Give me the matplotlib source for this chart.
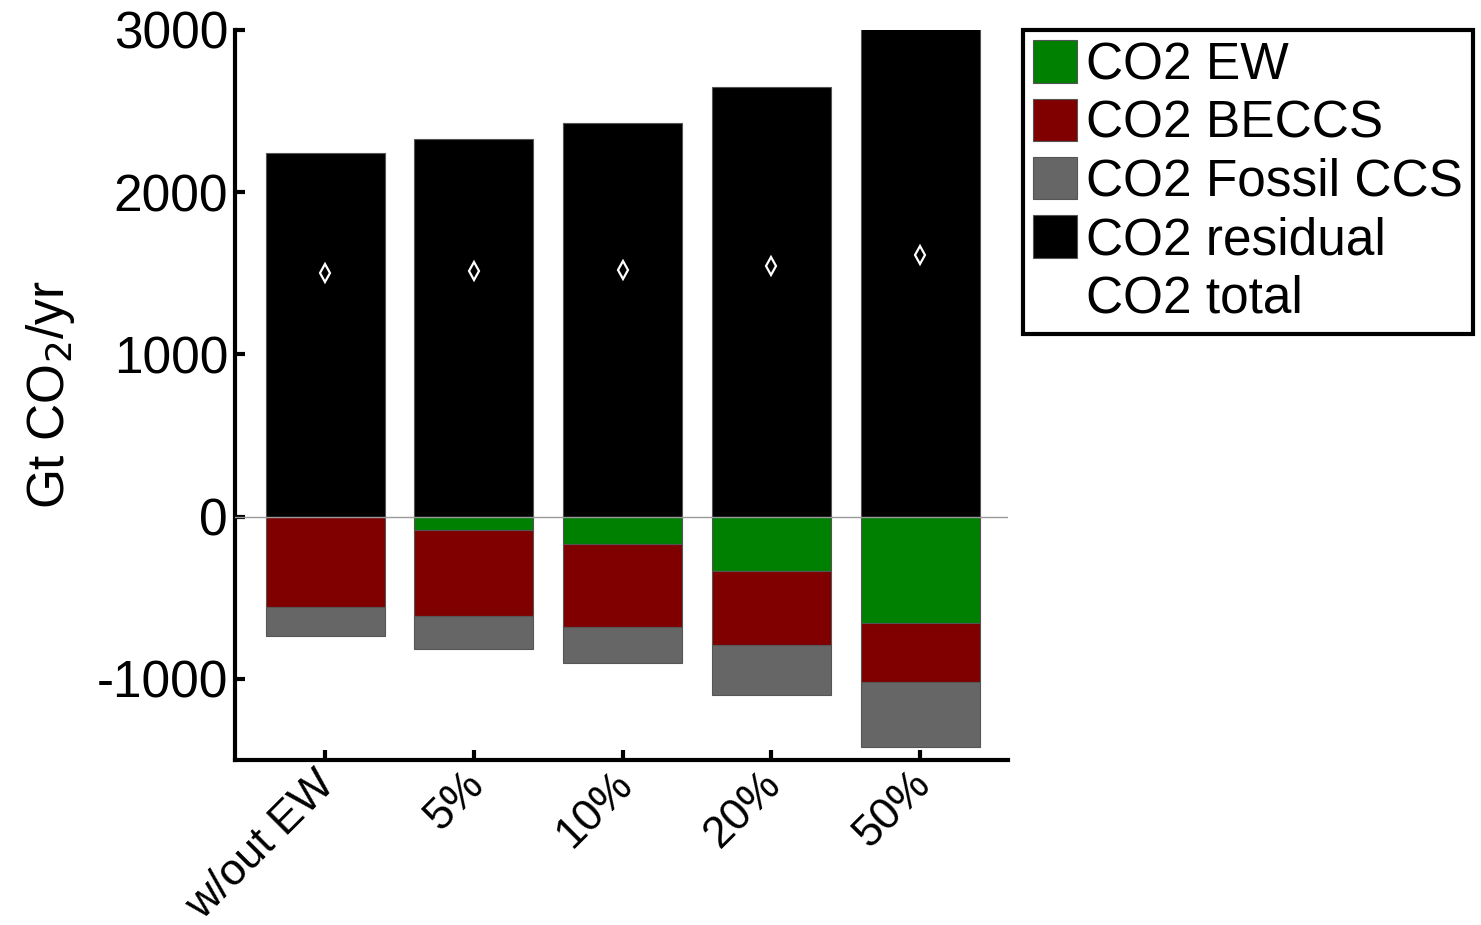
import matplotlib
matplotlib.use("Agg")
import matplotlib.pyplot as plt
import matplotlib.transforms as mtransforms
import numpy as np

categories = ["w/out EW", "5%", "10%", "20%", "50%"]
co2_ew = [0, -82, -169, -334, -656]
co2_beccs = [-557, -531, -512, -458, -365]
co2_fossil_ccs = [-177, -201, -222, -307, -398]
co2_residual = [2239, 2327, 2424, 2646, 3030]

plt.rcParams['font.family'] = ['Liberation Sans', 'DejaVu Sans']

fig = plt.figure(figsize=(14.81, 9.25), dpi=100)
ax = fig.add_axes([235/1481, 1-760/925, (1008-235)/1481, (760-30)/925])

x = np.arange(1, len(categories)+1)
ew = np.array(co2_ew, float)
be = np.array(co2_beccs, float)
fo = np.array(co2_fossil_ccs, float)
re = np.array(co2_residual, float)
total = ew + be + fo + re

w = 0.8
ec = '#555555'
h1 = ax.bar(x, ew, w, color='#008000', edgecolor=ec, linewidth=0.8, label='CO2 EW', zorder=2)
h2 = ax.bar(x, be, w, bottom=ew, color='#800000', edgecolor=ec, linewidth=0.8, label='CO2 BECCS', zorder=2)
h3 = ax.bar(x, fo, w, bottom=ew+be, color='#666666', edgecolor=ec, linewidth=0.8, label='CO2 Fossil CCS', zorder=2)
h4 = ax.bar(x, re, w, color='black', edgecolor=ec, linewidth=0.8, label='CO2 residual', zorder=2)
h5, = ax.plot(x, total, linestyle='none', marker='d', markersize=9, markerfacecolor='none',
              markeredgecolor='white', markeredgewidth=1.6, label='CO2 total', zorder=4)
ax.axhline(0, color='#999999', linewidth=1.0, zorder=3)

ax.set_xlim(0.395, 5.59)
ax.set_ylim(-1500, 3000)
ax.set_yticks([-1000, 0, 1000, 2000, 3000])
ax.set_yticklabels(['-1000', '0', '1000', '2000', '3000'])
ax.set_xticks(x)
ax.set_xticklabels(categories, rotation=45, ha='right', va='top', rotation_mode='anchor')

for s in ['top', 'right']:
    ax.spines[s].set_visible(False)
for s in ['left', 'bottom']:
    ax.spines[s].set_linewidth(3)
ax.tick_params(axis='both', direction='in', length=7, width=3, labelsize=37, pad=5)
ax.tick_params(axis='x', labelsize=32, pad=9)

offset = mtransforms.ScaledTranslation(-11/100, 9/100, fig.dpi_scale_trans)
for lab in ax.get_xticklabels():
    lab.set_transform(lab.get_transform() + offset)

ax.set_ylabel('Gt CO$_2$/yr', fontsize=37, labelpad=14)

leg = fig.legend(handles=[h1, h2, h3, h4, h5],
                 loc='upper left', bbox_to_anchor=(1023/1481, 1-30/925),
                 fontsize=37, frameon=True, fancybox=False, edgecolor='black', framealpha=1,
                 handlelength=0.86, handleheight=0.9, handletextpad=0.16,
                 borderpad=0.2, labelspacing=0.16, borderaxespad=0)
leg.get_frame().set_linewidth(3)

fig.savefig('out.png', dpi=100, facecolor='white')
